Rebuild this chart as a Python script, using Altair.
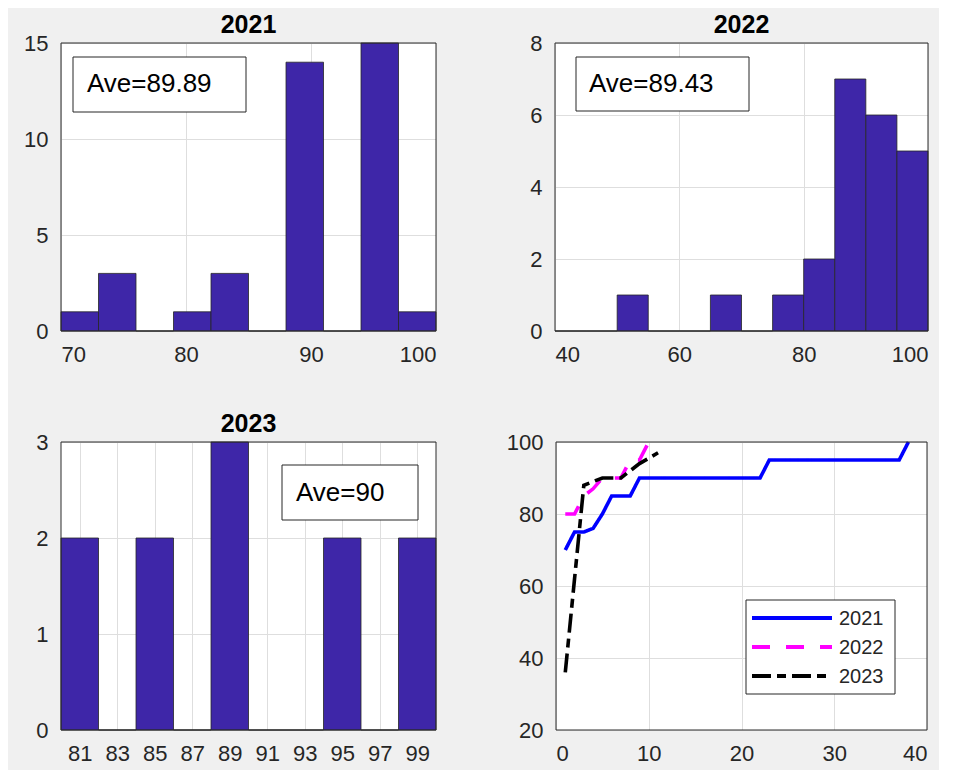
import altair as alt
import pandas as pd

FONT = "Liberation Sans"

years = ["2021", "2022", "2023"]
ave_labels = ["Ave=89.89", "Ave=89.43", "Ave=90"]

# 2021 histogram (bin edges and counts)
h21_start = [70, 73, 76, 79, 82, 85, 88, 91, 94, 97]
h21_end = [73, 76, 79, 82, 85, 88, 91, 94, 97, 100]
h21_count = [1, 3, 0, 1, 3, 0, 14, 0, 15, 1]

# 2022 histogram
h22_start = [40, 45, 50, 55, 60, 65, 70, 75, 80, 85, 90, 95]
h22_end = [45, 50, 55, 60, 65, 70, 75, 80, 85, 90, 95, 100]
h22_count = [0, 0, 1, 0, 0, 1, 0, 1, 2, 7, 6, 5]

# 2023 histogram
h23_start = [80, 82, 84, 86, 88, 90, 92, 94, 96, 98]
h23_end = [82, 84, 86, 88, 90, 92, 94, 96, 98, 100]
h23_count = [2, 0, 2, 0, 3, 0, 0, 2, 0, 2]

# sorted score curves
line21 = [70, 75, 75, 76, 80, 85, 85, 85,
          90, 90, 90, 90, 90, 90, 90, 90, 90, 90, 90, 90, 90, 90,
          95, 95, 95, 95, 95, 95, 95, 95, 95, 95, 95, 95, 95, 95, 95,
          100]
line22 = [80, 80, 85, 87, 90, 90, 90, 95, 95, 100, 100]
line23 = [36, 62, 88, 89, 90, 90, 90, 92, 94, 95.5, 97]

BAR = "#3e26a8"
EDGE = "#262626"
FRAME = "#2b2b2b"
YEXT = 50
XEXT = 34
H = 288


def frame(w):
    f = pd.DataFrame({"k": [0]})
    return alt.Chart(f).mark_rect(fill=None, fillOpacity=0, stroke=FRAME, strokeWidth=1).encode(
        x=alt.value(0), x2=alt.value(w), y=alt.value(0), y2=alt.value(H))


def hist_panel(title, starts, ends, counts, xdom, xticks, ydom, yticks, w,
               box, tpos, label):
    df = pd.DataFrame({"start": starts, "end": ends, "count": counts})
    bars = alt.Chart(df).mark_rect(color=BAR, stroke=EDGE, strokeWidth=0.8).encode(
        x=alt.X("start:Q", scale=alt.Scale(domain=xdom, nice=False, zero=False),
                axis=alt.Axis(values=xticks, title=None)),
        x2="end:Q",
        y=alt.Y("count:Q", scale=alt.Scale(domain=ydom, nice=False),
                axis=alt.Axis(values=yticks, title=None)),
        y2=alt.datum(0),
    )
    lab = pd.DataFrame({"label": [label], "title": [title]})
    rect = alt.Chart(lab).mark_rect(fill="white", stroke=EDGE, strokeWidth=1).encode(
        x=alt.value(box[0]), x2=alt.value(box[1]),
        y=alt.value(box[2]), y2=alt.value(box[3]))
    txt = alt.Chart(lab).mark_text(align="left", baseline="middle", font=FONT,
                                   fontSize=26, color="black").encode(
        x=alt.value(tpos[0]), y=alt.value(tpos[1]), text="label:N")
    ttl = alt.Chart(lab).mark_text(align="center", baseline="alphabetic", font=FONT,
                                   fontSize=25, fontWeight="bold", color="black").encode(
        x=alt.value(w / 2), y=alt.value(-10), text="title:N")
    return alt.layer(bars, frame(w), rect, txt, ttl).properties(width=w, height=H)


p1 = hist_panel("2021", h21_start, h21_end, h21_count, [70, 100],
                [70, 80, 90, 100], [0, 15], [0, 5, 10, 15], 375,
                (12, 185, 14, 69), (26, 41), ave_labels[0])
p2 = hist_panel("2022", h22_start, h22_end, h22_count, [40, 100],
                [40, 60, 80, 100], [0, 8], [0, 2, 4, 6, 8], 373,
                (21, 194, 14, 68), (34, 41), ave_labels[1])
p3 = hist_panel("2023", h23_start, h23_end, h23_count, [80, 100],
                [81, 83, 85, 87, 89, 91, 93, 95, 97, 99], [0, 3], [0, 1, 2, 3], 375,
                (221, 357, 23, 78), (235, 51), ave_labels[2])

rows = []
for yr, vals in zip(years, [line21, line22, line23]):
    for i, v in enumerate(vals):
        rows.append({"year": yr, "idx": i + 1, "score": v})
df_lines = pd.DataFrame(rows)

colors = ["#0000ff", "#ff00ff", "#000000"]
dashes = [[1, 0], [18, 16], [19, 6, 9, 6]]

lines = alt.Chart(df_lines).mark_line(strokeWidth=3.6).encode(
    x=alt.X("idx:Q", scale=alt.Scale(domain=[0, 40], nice=False),
            axis=alt.Axis(values=[0, 10, 20, 30, 40], title=None)),
    y=alt.Y("score:Q", scale=alt.Scale(domain=[20, 100], nice=False),
            axis=alt.Axis(values=[20, 40, 60, 80, 100], title=None)),
    color=alt.Color("year:N", scale=alt.Scale(domain=years, range=colors), legend=None),
    strokeDash=alt.StrokeDash("year:N", scale=alt.Scale(domain=years, range=dashes),
                              legend=None),
)

leg_df = pd.DataFrame({"label": [""]})
leg_box = alt.Chart(leg_df).mark_rect(fill="white", stroke=EDGE, strokeWidth=1).encode(
    x=alt.value(190), x2=alt.value(339), y=alt.value(158), y2=alt.value(252))
leg_layers = [leg_box]
leg_y = [176, 205, 234]
for yr, c, d, yy in zip(years, colors, dashes, leg_y):
    one = pd.DataFrame({"year": [yr]})
    leg_layers.append(alt.Chart(one).mark_rule(color=c, strokeDash=d, strokeWidth=4).encode(
        x=alt.value(196), x2=alt.value(276), y=alt.value(yy)))
    leg_layers.append(alt.Chart(one).mark_text(align="left", baseline="middle", font=FONT,
                                               fontSize=20, color="#262626").encode(
        x=alt.value(283), y=alt.value(yy + 1), text="year:N"))

p4 = alt.layer(lines, frame(371), *leg_layers).properties(width=371, height=H)

row1 = alt.hconcat(p1, p2, spacing=68)
row2 = alt.hconcat(p3, p4, spacing=69)

chart = alt.vconcat(row1, row2, spacing=47).properties(
    background="#f0f0f0",
    padding={"left": 3, "top": 5, "right": 10, "bottom": 6},
).configure_view(
    stroke=None, fill="white"
).configure_axis(
    domain=False, ticks=False, grid=True, gridColor="#dedede", gridWidth=1,
    labelFont=FONT, labelFontSize=22, labelColor="#262626",
).configure_axisX(labelPadding=13, minExtent=XEXT, maxExtent=XEXT
).configure_axisY(labelPadding=13, minExtent=YEXT, maxExtent=YEXT)

chart.save("out.html", embed_options={"renderer": "svg", "actions": False})
